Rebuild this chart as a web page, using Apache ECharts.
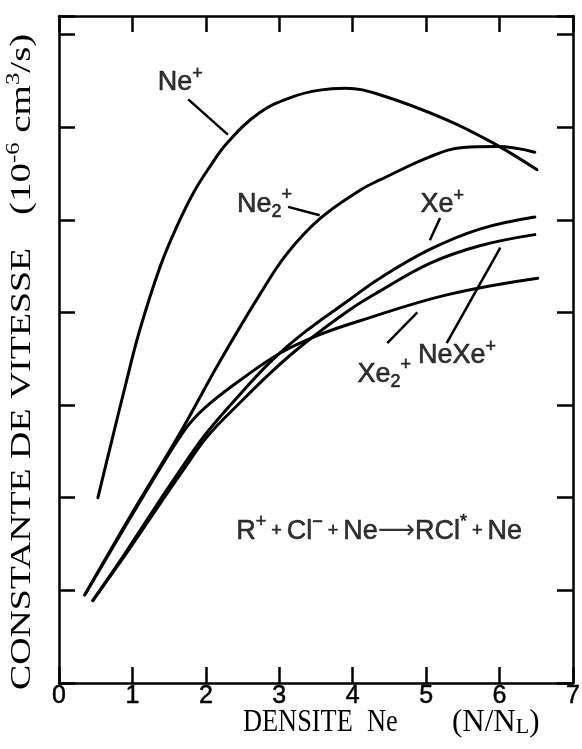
<!DOCTYPE html>
<html><head><meta charset="utf-8">
<script src="https://cdn.jsdelivr.net/npm/echarts@6/dist/echarts.min.js"></script>
<style>html,body{margin:0;padding:0;background:#fff}#c{width:582px;height:749px}</style>
</head><body><div id="c"></div>
<script>
// ---- data ----
const xTickLabels = ['0','1','2','3','4','5','6','7'];

const neX   = [0.53,0.72,0.91,1.10,1.38,1.60,1.83,2.06,2.29,2.74,3.19,3.55,3.90,4.37,5.28,5.91,6.51];
const neY   = [2.00,2.62,3.23,3.81,4.50,4.92,5.29,5.58,5.83,6.16,6.33,6.40,6.42,6.35,6.08,5.83,5.54];

const ne2X  = [0.35,0.97,1.65,2.19,2.74,3.10,3.55,4.10,4.37,5.05,5.50,5.97,6.48];
const ne2Y  = [0.95,1.80,2.70,3.47,4.20,4.63,5.01,5.32,5.43,5.68,5.78,5.79,5.73];

const xeX   = [0.46,0.90,1.38,1.72,2.02,2.47,2.91,3.35,3.96,4.37,5.05,5.73,6.48];
const xeY   = [0.89,1.40,1.98,2.38,2.71,3.12,3.49,3.79,4.14,4.37,4.68,4.90,5.03];

const nexeX = [0.46,0.90,1.38,1.72,2.02,2.47,2.91,3.35,3.96,4.37,5.05,5.73,6.48];
const nexeY = [0.89,1.38,1.94,2.33,2.66,3.03,3.37,3.67,4.03,4.23,4.53,4.72,4.84];

const xe2X  = [0.35,0.97,1.38,1.60,1.80,2.06,2.47,3.01,3.55,4.10,5.28,6.52];
const xe2Y  = [0.95,1.78,2.32,2.60,2.82,3.02,3.27,3.56,3.76,3.91,4.19,4.37];

// annotation labels (rich-text markup) and their anchor points in data units
const labelTexts = ['{b|Ne}{sup|+}','{b|Ne}{sub|2}{sup|+}','{b|Xe}{sup|+}','{b|NeXe}{sup|+}','{b|Xe}{sub|2}{sup|+}',
  '{b|R}{sup|+}{p| + }{b|Cl}{sup|\u2212}{p| + }{b|Ne}{ar|\u27F6}{b|RCl}{sup|*}{p| + }{b|Ne}'];
const labelX = [1.65, 2.80, 5.22, 5.42, 4.43, 4.36];
const labelY = [6.48, 5.17, 5.16, 3.53, 3.33, 1.64];

// leader lines from labels to curves (data units)
const leadX1 = [1.76, 3.12, 5.19, 5.28, 4.47];
const leadY1 = [6.30, 5.14, 5.02, 3.67, 3.67];
const leadX2 = [2.30, 3.55, 5.05, 6.01, 4.88];
const leadY2 = [5.92, 5.05, 4.78, 4.70, 4.00];

// ---- build ----
const zip = (a, b) => a.map((v, i) => [v, b[i]]);
const curves = [['Ne+', neX, neY], ['Ne2+', ne2X, ne2Y], ['Xe+', xeX, xeY], ['NeXe+', nexeX, nexeY], ['Xe2+', xe2X, xe2Y]];

const black = '#000';
const axisCommon = {
  type: 'value', min: 0, interval: 1,
  axisLine: { show: true, onZero: false, lineStyle: { color: black, width: 2.5 } },
  axisTick: { show: true, inside: true, length: 16, lineStyle: { color: black, width: 2.5 } },
  splitLine: { show: false }
};

const series = curves.map(c => ({
  name: c[0], type: 'line', data: zip(c[1], c[2]), smooth: 0.4,
  showSymbol: false, symbol: 'none', silent: true,
  lineStyle: { color: black, width: 3, cap: 'round', join: 'round' }
}));

series.push({
  type: 'lines', coordinateSystem: 'cartesian2d', silent: true,
  lineStyle: { color: black, width: 2.5, opacity: 1, curveness: 0 },
  data: leadX1.map((v, i) => ({ coords: [[v, leadY1[i]], [leadX2[i], leadY2[i]]] }))
});

series.push({
  type: 'scatter', symbolSize: 0, silent: true,
  data: labelX.map((v, i) => [v, labelY[i], labelTexts[i]]),
  label: {
    show: true, position: 'inside', color: black,
    formatter: p => p.data[2],
    rich: {
      b:   { fontFamily: 'Liberation Sans', fontSize: 27, color: black, textBorderColor: black, textBorderWidth: 0.6 },
      sup: { fontFamily: 'Liberation Sans', fontSize: 18, color: black, padding: [0, 0, 18, 0], textBorderColor: black, textBorderWidth: 0.6 },
      sub: { fontFamily: 'Liberation Sans', fontSize: 18, color: black, padding: [16, 0, 0, 0], textBorderColor: black, textBorderWidth: 0.6 },
      p:   { fontFamily: 'Liberation Sans', fontSize: 18, color: black, textBorderColor: black, textBorderWidth: 0.6 },
      ar:  { fontFamily: 'DejaVu Sans', fontSize: 26, color: black }
    }
  }
});

const serif = 'Liberation Serif';
const chart = echarts.init(document.getElementById('c'), null, { renderer: 'canvas' });
chart.setOption({
  animation: false,
  backgroundColor: '#fff',
  grid: { left: 59, right: 9, top: 16, bottom: 66, containLabel: false, outerBoundsMode: 'none' },
  xAxis: [
    Object.assign({}, axisCommon, { position: 'bottom', max: 7,
      axisLabel: { show: true, color: black, fontFamily: 'Liberation Sans', fontSize: 25, margin: 1,
        textBorderColor: black, textBorderWidth: 0.5,
        formatter: v => xTickLabels[Math.round(v)] } }),
    Object.assign({}, axisCommon, { position: 'top', max: 7, axisLabel: { show: false } })
  ],
  yAxis: [
    Object.assign({}, axisCommon, { position: 'left', max: 7.2, axisLabel: { show: false } }),
    Object.assign({}, axisCommon, { position: 'right', max: 7.2, axisLabel: { show: false } })
  ],
  series: series,
  graphic: [
    { type: 'text', x: 243, y: 723, scaleX: 0.85, silent: true,
      style: { text: 'DENSITE', fontFamily: serif, fontSize: 31, fill: black, align: 'left', verticalAlign: 'middle' } },
    { type: 'text', x: 367, y: 723, scaleX: 0.85, silent: true,
      style: { text: 'Ne', fontFamily: serif, fontSize: 31, fill: black, align: 'left', verticalAlign: 'middle' } },
    { type: 'text', x: 452, y: 723, scaleX: 1.0, silent: true,
      style: { text: '{n|(N/N}{s|L}{n|)}', fill: black, align: 'left', verticalAlign: 'middle',
        rich: { n: { fontFamily: serif, fontSize: 31, fill: black }, s: { fontFamily: serif, fontSize: 22, fill: black, padding: [8, 0, 0, 0] } } } },
    { type: 'text', x: 22, y: 690, rotation: Math.PI / 2, scaleX: 1.26, silent: true,
      style: { text: 'CONSTANTE DE VITESSE', fontFamily: serif, fontSize: 30, fill: black, align: 'left', verticalAlign: 'middle' } },
    { type: 'text', x: 22, y: 215, rotation: Math.PI / 2, scaleX: 1.3, silent: true,
      style: { text: '{n|(10}{s|-6}{n| cm}{s|3}{n|/s)}', fill: black, align: 'left', verticalAlign: 'middle',
        rich: { n: { fontFamily: serif, fontSize: 30, fill: black }, s: { fontFamily: serif, fontSize: 19, fill: black, padding: [0, 0, 16, 0] } } } }
  ]
});
</script></body></html>
